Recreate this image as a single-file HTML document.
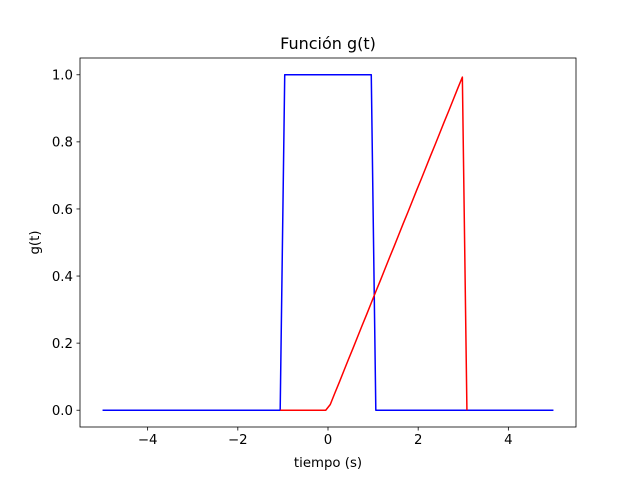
<!DOCTYPE html>
<html><head><meta charset="utf-8"><style>
body{margin:0;background:#fff;}
text{font-family:"DejaVu Sans","Liberation Sans",sans-serif;fill:#000;}
</style></head><body>
<svg id="chart" width="640" height="480" xmlns="http://www.w3.org/2000/svg">
<rect width="640" height="480" fill="#fff"/>
<g id="plot"></g>
</svg>
<script>
const xTicks=[-4,-2,0,2,4];
const yTicks=[0.0,0.2,0.4,0.6,0.8,1.0];
const yTickLabels=["0.0","0.2","0.4","0.6","0.8","1.0"];
const tStart=-5, tEnd=5, nPts=100;
const blueVals=[0,0,0,0,0,0,0,0,0,0,0,0,0,0,0,0,0,0,0,0,0,0,0,0,0,0,0,0,0,0,0,0,0,0,0,0,0,0,0,0,
1,1,1,1,1,1,1,1,1,1,1,1,1,1,1,1,1,1,1,1,
0,0,0,0,0,0,0,0,0,0,0,0,0,0,0,0,0,0,0,0,0,0,0,0,0,0,0,0,0,0,0,0,0,0,0,0,0,0,0,0];
const redStartIndex=39;
const redVals=[0,0,0,0,0,0,0,0,0,0,0,
0.017,0.051,0.084,0.118,0.152,0.185,0.219,0.253,0.286,0.320,0.354,0.387,0.421,0.455,0.488,0.522,0.556,0.589,0.623,0.657,0.690,0.724,0.758,0.791,0.825,0.859,0.892,0.926,0.960,0.993,
0];
const NS="http://www.w3.org/2000/svg";
const L=80,R=576,T=58,B=427;
const xmin=-5.5,xmax=5.5,ymin=-0.05,ymax=1.05;
const sx=v=>L+(v-xmin)/(xmax-xmin)*(R-L);
const sy=v=>B-(v-ymin)/(ymax-ymin)*(B-T);
const tAt=k=>tStart+k*(tEnd-tStart)/(nPts-1);
const g=document.getElementById('plot');
function el(tag,attrs,txt){const e=document.createElementNS(NS,tag);for(const k in attrs)e.setAttribute(k,attrs[k]);if(txt!==undefined)e.textContent=txt;g.appendChild(e);return e;}
// series
let bp=blueVals.map((v,k)=>sx(tAt(k)).toFixed(2)+","+sy(v).toFixed(2)).join(" ");
let b=el('polyline',{points:bp,fill:'none',stroke:'#0000ff','stroke-width':1.5,'stroke-linejoin':'round'});


let rp=redVals.map((v,i)=>sx(tAt(redStartIndex+i)).toFixed(2)+","+sy(v).toFixed(2)).join(" ");
let r=el('polyline',{points:rp,fill:'none',stroke:'#ff0000','stroke-width':1.5,'stroke-linejoin':'round'});


// frame
let f=el('rect',{x:L,y:T,width:R-L,height:B-T,fill:'none',stroke:'#000','stroke-width':0.8});


xTicks.forEach(v=>{
  const x=sx(v);
  el('line',{x1:x,x2:x,y1:B,y2:B+3.5,stroke:'#000','stroke-width':0.8});
  const t=el('text',{x:x,y:B+17,'text-anchor':'middle','font-size':'13.3'},v<0?'\u2212'+Math.abs(v):String(v));
  
  
});
yTicks.forEach((v,i)=>{
  const y=sy(v);
  el('line',{x1:L-3.5,x2:L,y1:y,y2:y,stroke:'#000','stroke-width':0.8});
  const t=el('text',{x:L-7,y:y+4.8,'text-anchor':'end','font-size':'13.3'},yTickLabels[i]);
  
  
});
let tt=el('text',{x:(L+R)/2,y:49,'text-anchor':'middle','font-size':'16'},'Función g(t)');


let xl=el('text',{x:(L+R)/2,y:467,'text-anchor':'middle','font-size':'13.3'},'tiempo (s)');


let yl=el('text',{x:0,y:0,'text-anchor':'middle','font-size':'13.3',transform:'translate(39,'+((T+B)/2)+') rotate(-90)'},'g(t)');


</script>
</body></html>
